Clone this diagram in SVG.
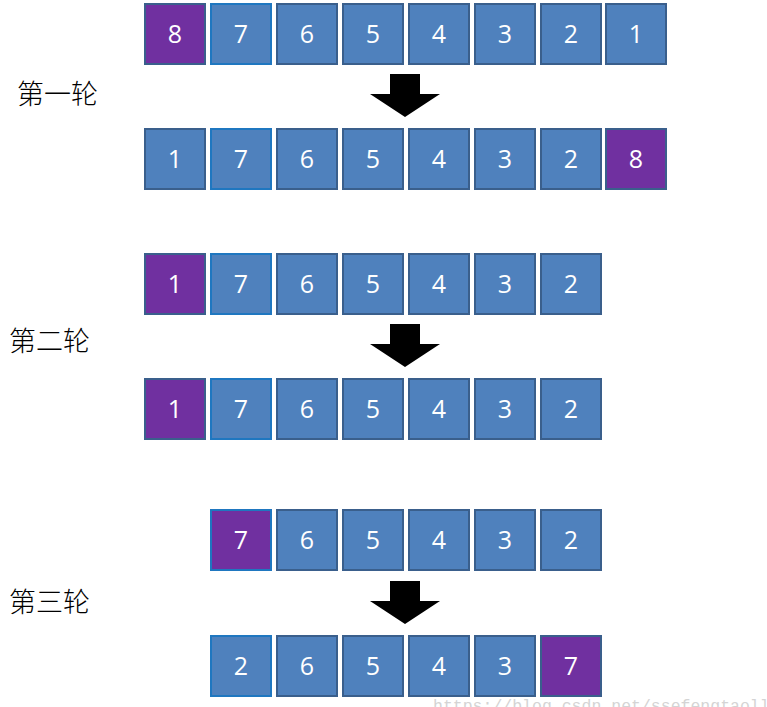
<svg xmlns="http://www.w3.org/2000/svg" width="767" height="707" viewBox="0 0 767 707">
<style>
.b{fill:#4F81BD;stroke:#3A5F8C;stroke-width:2}
.p{fill:#7030A0;stroke:#3A5F8C;stroke-width:2}
.hb{stroke:#1F77C0}
.t{font-family:"Open Sans","Liberation Sans",sans-serif;font-size:25px;fill:#fff;text-anchor:middle}
.lab{font-family:"Noto Sans CJK SC",sans-serif;font-size:27px;font-weight:300;fill:#000}
.ar{fill:#000}
</style>
<defs>
<path id="arrow" d="M-15,0 H15 V20 H35 L0,43 L-35,20 H-15 Z"/>
</defs>
<rect width="767" height="707" fill="#fff"/>
<text class="lab" x="17" y="104">第一轮</text>
<text class="lab" x="9" y="351">第二轮</text>
<text class="lab" x="9" y="612">第三轮</text>
<g id="connectors">
<use href="#arrow" class="ar" x="405" y="74"/>
<use href="#arrow" class="ar" x="405" y="324"/>
<use href="#arrow" class="ar" x="405" y="581"/>
</g>
<g id="row1">
<g id="r1n0"><rect class="p" x="145" y="4" width="60" height="60"/><text class="t" x="175" y="43">8</text></g>
<g id="r1n1"><rect class="b hb" x="211" y="4" width="60" height="60"/><text class="t" x="241" y="43">7</text></g>
<g id="r1n2"><rect class="b" x="277" y="4" width="60" height="60"/><text class="t" x="307" y="43">6</text></g>
<g id="r1n3"><rect class="b" x="343" y="4" width="60" height="60"/><text class="t" x="373" y="43">5</text></g>
<g id="r1n4"><rect class="b" x="409" y="4" width="60" height="60"/><text class="t" x="439" y="43">4</text></g>
<g id="r1n5"><rect class="b" x="475" y="4" width="60" height="60"/><text class="t" x="505" y="43">3</text></g>
<g id="r1n6"><rect class="b" x="541" y="4" width="60" height="60"/><text class="t" x="571" y="43">2</text></g>
<g id="r1n7"><rect class="b" x="606" y="4" width="60" height="60"/><text class="t" x="636" y="43">1</text></g>
</g>
<g id="row2">
<g id="r2n0"><rect class="b" x="145" y="129" width="60" height="60"/><text class="t" x="175" y="168">1</text></g>
<g id="r2n1"><rect class="b hb" x="211" y="129" width="60" height="60"/><text class="t" x="241" y="168">7</text></g>
<g id="r2n2"><rect class="b" x="277" y="129" width="60" height="60"/><text class="t" x="307" y="168">6</text></g>
<g id="r2n3"><rect class="b" x="343" y="129" width="60" height="60"/><text class="t" x="373" y="168">5</text></g>
<g id="r2n4"><rect class="b" x="409" y="129" width="60" height="60"/><text class="t" x="439" y="168">4</text></g>
<g id="r2n5"><rect class="b" x="475" y="129" width="60" height="60"/><text class="t" x="505" y="168">3</text></g>
<g id="r2n6"><rect class="b" x="541" y="129" width="60" height="60"/><text class="t" x="571" y="168">2</text></g>
<g id="r2n7"><rect class="p" x="606" y="129" width="60" height="60"/><text class="t" x="636" y="168">8</text></g>
</g>
<g id="row3">
<g id="r3n0"><rect class="p" x="145" y="254" width="60" height="60"/><text class="t" x="175" y="293">1</text></g>
<g id="r3n1"><rect class="b hb" x="211" y="254" width="60" height="60"/><text class="t" x="241" y="293">7</text></g>
<g id="r3n2"><rect class="b" x="277" y="254" width="60" height="60"/><text class="t" x="307" y="293">6</text></g>
<g id="r3n3"><rect class="b" x="343" y="254" width="60" height="60"/><text class="t" x="373" y="293">5</text></g>
<g id="r3n4"><rect class="b" x="409" y="254" width="60" height="60"/><text class="t" x="439" y="293">4</text></g>
<g id="r3n5"><rect class="b" x="475" y="254" width="60" height="60"/><text class="t" x="505" y="293">3</text></g>
<g id="r3n6"><rect class="b" x="541" y="254" width="60" height="60"/><text class="t" x="571" y="293">2</text></g>
</g>
<g id="row4">
<g id="r4n0"><rect class="p" x="145" y="379" width="60" height="60"/><text class="t" x="175" y="418">1</text></g>
<g id="r4n1"><rect class="b hb" x="211" y="379" width="60" height="60"/><text class="t" x="241" y="418">7</text></g>
<g id="r4n2"><rect class="b" x="277" y="379" width="60" height="60"/><text class="t" x="307" y="418">6</text></g>
<g id="r4n3"><rect class="b" x="343" y="379" width="60" height="60"/><text class="t" x="373" y="418">5</text></g>
<g id="r4n4"><rect class="b" x="409" y="379" width="60" height="60"/><text class="t" x="439" y="418">4</text></g>
<g id="r4n5"><rect class="b" x="475" y="379" width="60" height="60"/><text class="t" x="505" y="418">3</text></g>
<g id="r4n6"><rect class="b" x="541" y="379" width="60" height="60"/><text class="t" x="571" y="418">2</text></g>
</g>
<g id="row5">
<g id="r5n1"><rect class="p hb" x="211" y="510" width="60" height="60"/><text class="t" x="241" y="549">7</text></g>
<g id="r5n2"><rect class="b" x="277" y="510" width="60" height="60"/><text class="t" x="307" y="549">6</text></g>
<g id="r5n3"><rect class="b" x="343" y="510" width="60" height="60"/><text class="t" x="373" y="549">5</text></g>
<g id="r5n4"><rect class="b" x="409" y="510" width="60" height="60"/><text class="t" x="439" y="549">4</text></g>
<g id="r5n5"><rect class="b" x="475" y="510" width="60" height="60"/><text class="t" x="505" y="549">3</text></g>
<g id="r5n6"><rect class="b" x="541" y="510" width="60" height="60"/><text class="t" x="571" y="549">2</text></g>
</g>
<g id="row6">
<g id="r6n1"><rect class="b hb" x="211" y="636" width="60" height="60"/><text class="t" x="241" y="675">2</text></g>
<g id="r6n2"><rect class="b" x="277" y="636" width="60" height="60"/><text class="t" x="307" y="675">6</text></g>
<g id="r6n3"><rect class="b" x="343" y="636" width="60" height="60"/><text class="t" x="373" y="675">5</text></g>
<g id="r6n4"><rect class="b" x="409" y="636" width="60" height="60"/><text class="t" x="439" y="675">4</text></g>
<g id="r6n5"><rect class="b" x="475" y="636" width="60" height="60"/><text class="t" x="505" y="675">3</text></g>
<g id="r6n6"><rect class="p" x="541" y="636" width="60" height="60"/><text class="t" x="571" y="675">7</text></g>
</g>
<text x="433" y="711" font-family="Liberation Mono,monospace" font-size="16.5" fill="#d4d4d4">https://blog.csdn.net/ssefengtaoll</text>
</svg>
